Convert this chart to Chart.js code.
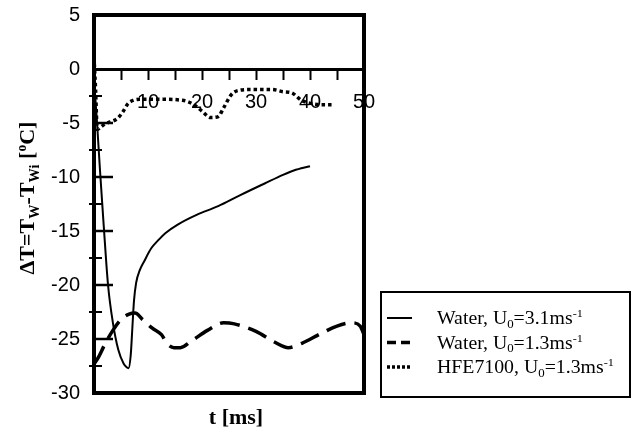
<!DOCTYPE html>
<html lang="en">
<head>
<meta charset="UTF-8">
<title>Wall temperature change</title>
<script src="https://cdn.jsdelivr.net/npm/chart.js@4.4.0/dist/chart.umd.min.js"></script>
<style>
    html, body { margin: 0; padding: 0; background: #fff; }
    #wrap { width: 634px; height: 432px; }
</style>
</head>
<body>
<div id="wrap"><canvas id="deltaT"></canvas></div>
<script>
    // time [ms] and temperature change [C]
    var water31T = [0, 0.5, 1.1, 1.8, 2.6, 3.5, 4.5, 5.5, 6.0, 6.4, 6.8, 7.1, 7.4, 7.8, 8.5, 9.3, 10.6, 12, 13.2, 15.5, 19, 23, 27, 31.6, 35, 37, 40];
    var water31V = [-1, -4.5, -9.3, -14.5, -20, -23.5, -26, -27.3, -27.6, -27.7, -26.5, -24, -21.5, -19.8, -18.6, -17.8, -16.6, -15.8, -15.2, -14.4, -13.5, -12.7, -11.7, -10.6, -9.8, -9.4, -9.0];

    var water13T = [0, 0.7, 2, 3.5, 5, 6.5, 7.6, 9, 10.8, 12.5, 13.5, 14.8, 16, 18, 21, 24, 26, 30, 33.5, 36, 38.5, 42, 45, 47.8, 49.3, 50];
    var water13V = [-27.3, -26.8, -25.5, -24.2, -23.2, -22.7, -22.6, -23.2, -24.0, -24.6, -25.4, -25.8, -25.8, -25.2, -24.2, -23.5, -23.6, -24.3, -25.3, -25.8, -25.4, -24.5, -23.8, -23.5, -23.8, -24.6];

    var hfeT = [0, 0.3, 0.6, 1.2, 2, 3, 4.3, 5.3, 6.3, 7.3, 8.5, 12, 16.4, 18.5, 20, 21.6, 23, 24, 25.4, 26.6, 29, 33, 35, 36.6, 38.4, 40.3, 42, 44];
    var hfeV = [1.1, -2, -5.6, -5.4, -5.1, -4.9, -4.6, -4.0, -3.2, -2.9, -2.8, -2.8, -2.9, -3.3, -3.9, -4.5, -4.4, -3.6, -2.4, -2.0, -1.9, -1.9, -2.1, -2.2, -2.9, -3.2, -3.3, -3.3];

    var seriesLabels = ['Water, U_{0}=3.1ms^{-1}', 'Water, U_{0}=1.3ms^{-1}', 'HFE7100, U_{0}=1.3ms^{-1}'];
    var xLabelValues = [10, 20, 30, 40, 50];
    var yMajorMarks = [-25, -20, -15, -10, -5];
    var yMinorMarks = [-27.5, -22.5, -17.5, -12.5, -7.5, -2.5];
    var yTitle = '\u0394T=T_{W}-T_{Wi} [^{o}C]';
    var xTitle = 't [ms]';

    function toPoints(ts, vs) {
        return ts.map(function (t, i) { return { x: t, y: vs[i] }; });
    }

    // text with _{sub} and ^{sup} parts
    function richText(ctx, str, x, y, size, weight, align) {
        var parts = str.split(/(_\{[^}]*\}|\^\{[^}]*\})/).filter(Boolean);
        var items = parts.map(function (p) {
            if (p[0] === '_') return { t: p.slice(2, -1), s: size * 0.65, dy: size * 0.22 };
            if (p[0] === '^') return { t: p.slice(2, -1), s: size * 0.62, dy: -size * 0.38 };
            return { t: p, s: size, dy: 0 };
        });
        var w = 0;
        items.forEach(function (it) {
            ctx.font = weight + ' ' + it.s + 'px "Liberation Serif"';
            it.w = ctx.measureText(it.t).width;
            w += it.w;
        });
        var cx = align === 'center' ? x - w / 2 : x;
        ctx.textBaseline = 'alphabetic';
        ctx.textAlign = 'left';
        items.forEach(function (it) {
            ctx.font = weight + ' ' + it.s + 'px "Liberation Serif"';
            ctx.fillText(it.t, cx, y + it.dy);
            cx += it.w;
        });
        return w;
    }

    var decor = {
        id: 'decor',
        afterDraw: function (chart) {
            var ctx = chart.ctx;
            var a = chart.chartArea;
            var ys = chart.scales.y;
            ctx.save();
            ctx.strokeStyle = '#000';
            ctx.fillStyle = '#000';

            ctx.lineWidth = 4;
            ctx.strokeRect(a.left, a.top, a.right - a.left, a.bottom - a.top);

            ctx.lineWidth = 2.5;
            yMajorMarks.forEach(function (v) {
                var p = ys.getPixelForValue(v);
                ctx.beginPath(); ctx.moveTo(a.left, p); ctx.lineTo(a.left + 19, p); ctx.stroke();
            });
            ctx.lineWidth = 2;
            yMinorMarks.forEach(function (v) {
                var p = ys.getPixelForValue(v);
                ctx.beginPath(); ctx.moveTo(a.left - 5, p); ctx.lineTo(a.left + 8, p); ctx.stroke();
            });

            // axis titles
            richText(ctx, xTitle, (a.left + a.right) / 2 + 7, 424, 22, 'bold', 'center');
            ctx.save();
            ctx.translate(34, 198);
            ctx.rotate(-Math.PI / 2);
            richText(ctx, yTitle, 0, 0, 22, 'bold', 'center');
            ctx.restore();

            // legend box
            ctx.lineWidth = 2;
            ctx.strokeRect(381, 292, 249, 105);
            chart.data.datasets.forEach(function (ds, i) {
                var y = 318 + i * 24.5;
                ctx.save();
                ctx.lineWidth = ds.borderWidth;
                ctx.setLineDash(ds.legendDash);
                ctx.beginPath(); ctx.moveTo(387, y); ctx.lineTo(412, y); ctx.stroke();
                ctx.restore();
                ctx.save();
                ctx.translate(437, y + 6);
                ctx.scale(1.1, 1);
                richText(ctx, ds.label, 0, 0, 18, 'normal', 'left');
                ctx.restore();
            });
            ctx.restore();
        }
    };

    Chart.defaults.font.family = '"Liberation Sans", Arial, sans-serif';
    Chart.defaults.color = '#000';

    new Chart('deltaT', {
        type: 'line',
        data: {
            datasets: [{
                label: seriesLabels[0],
                data: toPoints(water31T, water31V),
                borderColor: '#000',
                borderWidth: 2,
                legendDash: [],
                pointRadius: 0,
                fill: false,
                cubicInterpolationMode: 'monotone'
            }, {
                label: seriesLabels[1],
                data: toPoints(water13T, water13V),
                borderColor: '#000',
                borderWidth: 3.5,
                borderDash: [20, 9],
                legendDash: [9, 5],
                pointRadius: 0,
                fill: false,
                cubicInterpolationMode: 'monotone'
            }, {
                label: seriesLabels[2],
                data: toPoints(hfeT, hfeV),
                borderColor: '#000',
                borderWidth: 3.5,
                borderDash: [3.5, 3],
                legendDash: [3, 2],
                pointRadius: 0,
                fill: false,
                cubicInterpolationMode: 'monotone'
            }]
        },
        options: {
            responsive: true,
            maintainAspectRatio: false,
            animation: false,
            layout: { padding: { top: 15, right: 270, bottom: 39, left: 0 } },
            plugins: {
                legend: { display: false },
                tooltip: { enabled: false }
            },
            scales: {
                x: {
                    type: 'linear',
                    min: 0,
                    max: 50,
                    position: { y: 0 },
                    border: { color: '#000', width: 3 },
                    grid: { drawOnChartArea: false, tickLength: 9, tickWidth: 2, color: '#000' },
                    ticks: {
                        stepSize: 5,
                        autoSkip: false,
                        maxRotation: 0,
                        padding: 12,
                        font: { size: 20 },
                        callback: function (v) { return xLabelValues.indexOf(v) >= 0 ? String(v) : ''; }
                    }
                },
                y: {
                    min: -30,
                    max: 5,
                    afterFit: function (s) {
                        s.width = 94;
                        s.paddingTop = 0;
                        s.paddingBottom = 0;
                    },
                    border: { display: false },
                    grid: { display: false, drawTicks: false },
                    ticks: { stepSize: 5, padding: 14, font: { size: 20 } }
                }
            }
        },
        plugins: [decor]
    });
</script>
</body>
</html>
